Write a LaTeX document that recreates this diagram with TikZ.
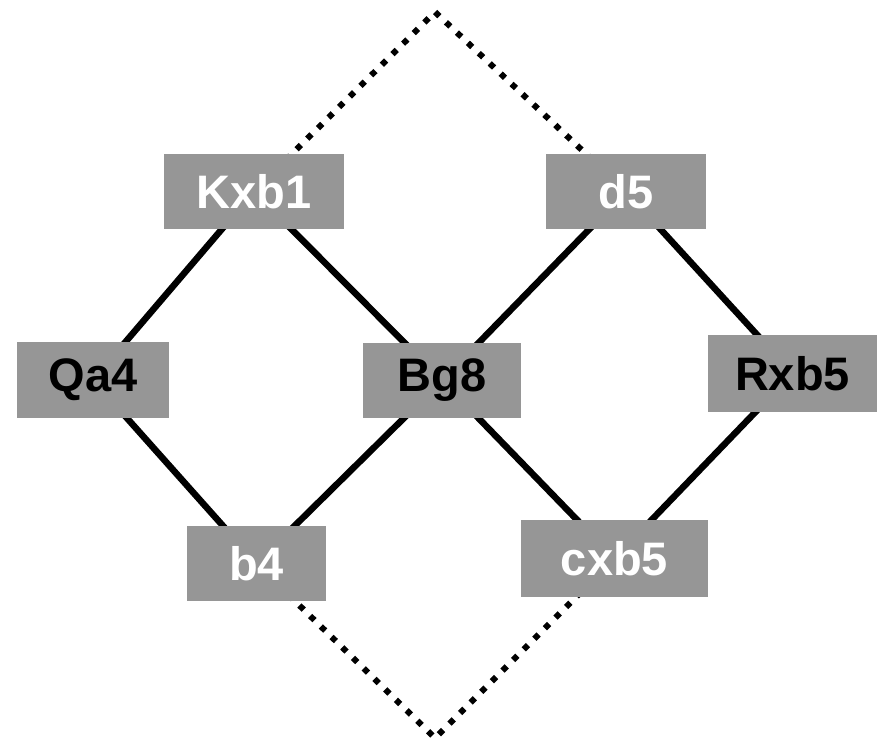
\documentclass[tikz,border=0pt]{standalone}
\usepackage{fontspec}
\setmainfont{Liberation Sans}
\pgfdeclarelayer{back}
\pgfsetlayers{back,main}
\begin{document}
\begin{tikzpicture}[x=1pt,y=-1pt,
  move/.style={fill=boxgray, inner sep=0pt, minimum height=75pt,
    font=\fontsize{47}{47}\selectfont\bfseries},
  light/.style={move, text=white},
  dark/.style={move, text=black},
  link/.style={line width=6.5pt, black},
  frame/.style={line width=6pt, black, dash pattern=on 6pt off 9pt}]
\definecolor{boxgray}{RGB}{150,150,150}
\useasboundingbox (0,0) rectangle (882,746);
% corners of the dotted frame
\coordinate (top) at (435,12);
\coordinate (bot) at (435,738);
% move boxes
\node[light, minimum width=180pt] (kxb1) at (254,191.5) {Kxb1};
\node[light, minimum width=160pt] (d5) at (626,191.5) {d5};
\node[dark, minimum width=152pt, minimum height=76pt] (qa4) at (93,380) {Qa4};
\node[dark, minimum width=158pt] (bg8) at (442,380.5) {Bg8};
\node[dark, minimum width=169pt, minimum height=77pt] (rxb5) at (792.5,373.5) {Rxb5};
\node[light, minimum width=139pt] (b4) at (256.5,563.5) {b4};
\node[light, minimum width=187pt, minimum height=77pt] (cxb5) at (614.5,558.5) {cxb5};
% connectors, drawn beneath the boxes
\begin{pgfonlayer}{back}
  \draw[frame] (kxb1.center) -- (top) -- (d5.center);
  \draw[frame] (b4.center) -- (bot) -- (cxb5.center);
  \draw[link] (kxb1.center) -- (qa4.center);
  \draw[link] (kxb1.center) -- (bg8.center);
  \draw[link] (d5.center) -- (bg8.center);
  \draw[link] (d5.center) -- (rxb5.center);
  \draw[link] (qa4.center) -- (b4.center);
  \draw[link] (bg8.center) -- (b4.center);
  \draw[link] (bg8.center) -- (cxb5.center);
  \draw[link] (rxb5.center) -- (cxb5.center);
\end{pgfonlayer}
\end{tikzpicture}
\end{document}
